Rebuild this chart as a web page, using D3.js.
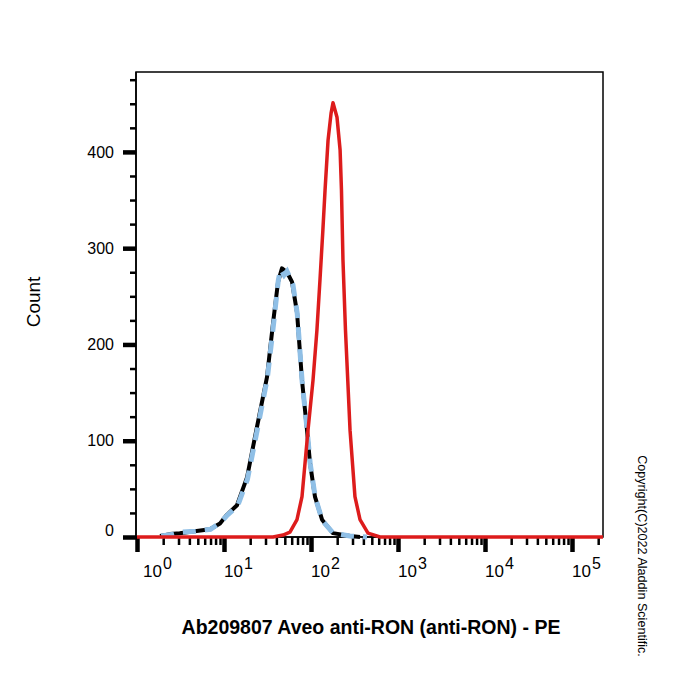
<!DOCTYPE html>
<html>
<head>
<meta charset="utf-8">
<script src="https://cdn.jsdelivr.net/npm/d3@7"></script>
<style>
  body { margin: 0; background: #fff; }
  svg { font-family: "Liberation Sans", Arial, sans-serif; }
</style>
</head>
<body>
<div id="container"></div>
<script>
// solid black histogram
const blackIntensity = [1.84, 2.4, 3.1, 4.6, 6.9, 9.0, 10.8, 14.1, 18.4, 23.9, 31.2, 36.6, 41.8, 46.4, 53, 60.5, 69.1, 78.8, 90, 97.4, 111, 134, 179, 281, 366]
const blackCount     = [1, 3, 4, 6, 8, 14, 23, 33, 62, 114, 166, 222, 265, 279, 275, 265, 233, 163, 111, 77, 42, 18, 4, 1, 0]

// dashed light blue histogram
const blueIntensity = [1.9, 2.6, 3.2, 4.7, 7.0, 9.1, 11, 14.3, 18.6, 24.2, 31.5, 37, 42, 44.5, 49, 53, 58, 62, 69.5, 79, 90.5, 98, 112, 135, 180, 280, 440]
const blueCount     = [1, 3, 5, 6, 8, 15, 23, 32, 60, 112, 165, 220, 266, 278, 272, 276, 268, 262, 232, 162, 110, 76, 41, 17, 4, 1, 0]

// solid red histogram
const redIntensity = [1, 36.6, 47.7, 57.3, 69, 78.8, 92.4, 105.5, 117, 127, 137, 145, 157, 170, 179, 199, 216, 224, 233, 249, 281, 320, 366, 452, 621, 227000]
const redCount     = [0, 0, 2, 5, 18, 42, 111, 163, 215, 268, 319, 360, 412, 440, 451, 436, 402, 360, 288, 215, 111, 42, 18, 4, 0, 0]

const yMajor = [0, 100, 200, 300, 400]
const yMinor = [25, 50, 75, 125, 150, 175, 225, 250, 275, 325, 350, 375, 425, 450, 475]
const xDecades = [1, 10, 100, 1000, 10000, 100000]
const xTitle = 'Ab209807 Aveo anti-RON (anti-RON) - PE'
const yTitle = 'Count'
const copyright = 'Copyright(C)2022 Aladdin Scientific.'

const w = 700
const h = 700

const svg = d3.select('#container')
  .append('svg')
  .attr('width', w)
  .attr('height', h)

const x = d3.scaleLog()
  .domain([1, Math.pow(10, 466 / 87)])
  .range([137, 603])

const y = d3.scaleLinear()
  .domain([0, 483])
  .range([537, 72])

// minor x ticks: 2..9 times every decade
let xMinor = []
xDecades.forEach((d) => {
  for (let k = 2; k <= 9; k++) {
    if (d * k < x.domain()[1]) xMinor.push(d * k)
  }
})

// frame
svg.append('rect')
  .attr('x', 136)
  .attr('y', 72)
  .attr('width', 603 - 136)
  .attr('height', 537 - 72)
  .attr('fill', 'none')
  .attr('stroke', '#000')
  .attr('stroke-width', 1.5)

// x axis
const xMinorAxis = svg.append('g')
  .attr('transform', 'translate(0,537)')
  .call(d3.axisBottom(x).tickValues(xMinor).tickSize(8).tickFormat(''))
const xMajorAxis = svg.append('g')
  .attr('transform', 'translate(0,537)')
  .call(d3.axisBottom(x).tickValues(xDecades).tickSize(15).tickFormat(''))
xMinorAxis.selectAll('line').attr('stroke-width', 2.5)
xMajorAxis.selectAll('line').attr('stroke-width', 4.5)
svg.selectAll('.domain').remove()

// x tick labels 10^n
xDecades.forEach((d, i) => {
  let t = svg.append('text')
    .attr('x', x(d) + (i === 0 ? 6 : 0))
    .attr('y', 577)
    .attr('font-size', 17)
    .attr('fill', '#000')
  t.append('tspan').text('10')
  t.append('tspan')
    .attr('font-size', 16)
    .attr('dy', -8)
    .attr('dx', 1)
    .text(i)
})

// y axis
const yMinorAxis = svg.append('g')
  .attr('transform', 'translate(136,0)')
  .call(d3.axisLeft(y).tickValues(yMinor).tickSize(6).tickFormat(''))
const yMajorAxis = svg.append('g')
  .attr('transform', 'translate(136,0)')
  .call(d3.axisLeft(y).tickValues(yMajor).tickSize(13).tickPadding(9))
yMinorAxis.selectAll('line').attr('stroke-width', 2.5)
yMajorAxis.selectAll('line').attr('stroke-width', 4.5)
yMajorAxis.selectAll('text')
  .attr('font-size', 16)
  .attr('font-family', '"Liberation Sans", Arial, sans-serif')
  .attr('dy', (d) => d === 0 ? '-0.1em' : '0.32em')
svg.selectAll('.domain').remove()

// left/bottom axis lines
svg.append('line')
  .attr('x1', 136).attr('x2', 136).attr('y1', 72).attr('y2', 537)
  .attr('stroke', '#000').attr('stroke-width', 1.5)
svg.append('line')
  .attr('x1', 136).attr('x2', 603).attr('y1', 537).attr('y2', 537)
  .attr('stroke', '#000').attr('stroke-width', 1.5)

const line = d3.line()
  .x((d) => x(d[0]))
  .y((d) => y(d[1]))

svg.append('path')
  .datum(d3.zip(blackIntensity, blackCount))
  .attr('d', line)
  .attr('fill', 'none')
  .attr('stroke', '#000')
  .attr('stroke-width', 4)
  .attr('stroke-linejoin', 'round')

svg.append('path')
  .datum(d3.zip(blueIntensity, blueCount))
  .attr('d', line)
  .attr('fill', 'none')
  .attr('stroke', '#8fbfe6')
  .attr('stroke-width', 5)
  .attr('stroke-dasharray', '13,9')

svg.append('path')
  .datum(d3.zip(redIntensity, redCount))
  .attr('d', line)
  .attr('fill', 'none')
  .attr('stroke', '#dd1c1c')
  .attr('stroke-width', 3.5)
  .attr('stroke-linejoin', 'round')

// titles
svg.append('text')
  .attr('transform', 'translate(40,302) rotate(-90)')
  .attr('text-anchor', 'middle')
  .attr('font-size', 19)
  .text(yTitle)

svg.append('text')
  .attr('x', 371)
  .attr('y', 634)
  .attr('text-anchor', 'middle')
  .attr('font-size', 19.5)
  .attr('font-weight', 'bold')
  .text(xTitle)

svg.append('text')
  .attr('transform', 'translate(638,556) rotate(90)')
  .attr('text-anchor', 'middle')
  .attr('font-size', 12.6)
  .text(copyright)
</script>
</body>
</html>
